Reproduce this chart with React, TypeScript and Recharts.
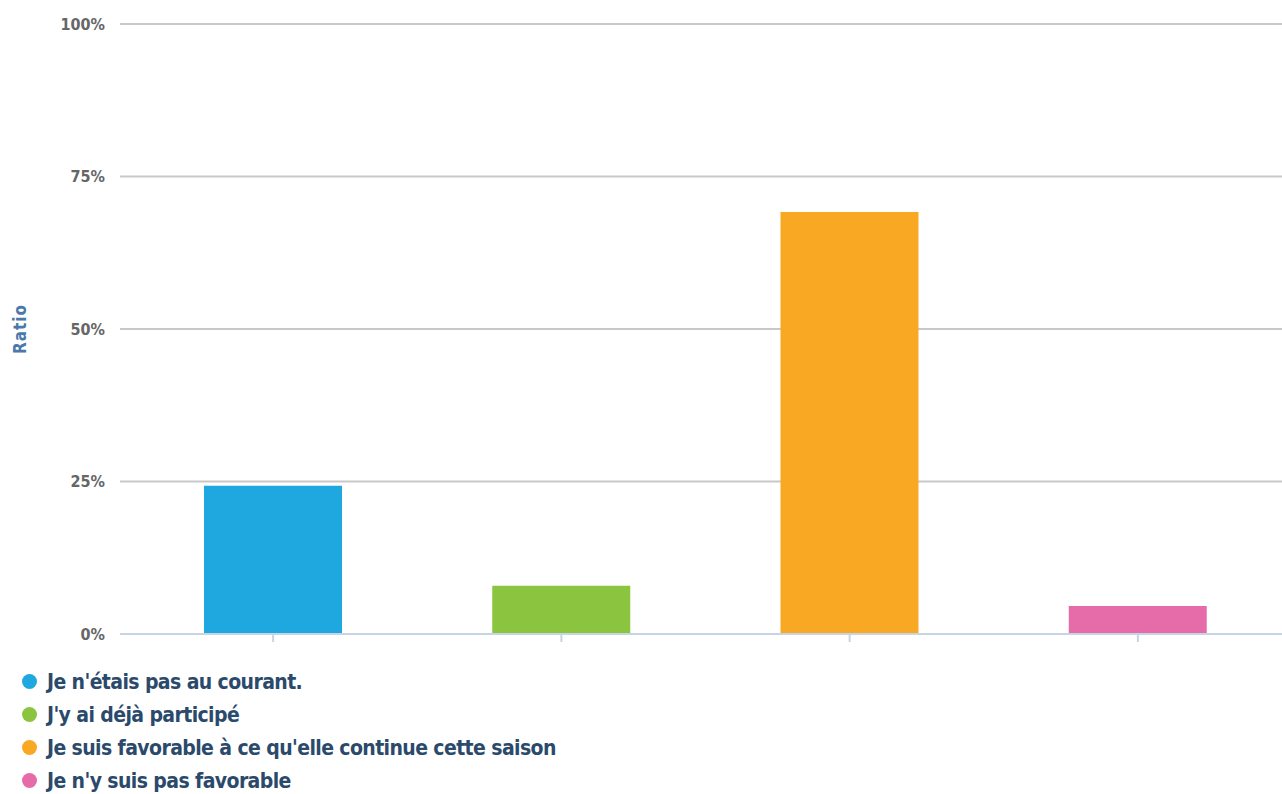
import React from "react";
import { BarChart, Bar, XAxis, YAxis, CartesianGrid, Cell } from "recharts";

const categories = [
  "Je n'étais pas au courant.",
  "J'y ai déjà participé",
  "Je suis favorable à ce qu'elle continue cette saison",
  "Je n'y suis pas favorable",
];
const ratios = [24.3, 7.9, 69.2, 4.6];
const colors = ["#1fa8df", "#8bc53f", "#f9a824", "#e66ca9"];
const yTicks = [0, 25, 50, 75, 100];

const data = categories.map((name, i) => ({ name, ratio: ratios[i] }));

const FONT = "'Liberation Sans Narrow', 'DejaVu Sans Condensed', 'Liberation Sans', sans-serif";

const EmptyTick = () => <g />;

export default function App() {
  return (
    <div style={{ position: "absolute", left: 0, top: 0, width: 1282, height: 794, background: "#fff" }}>
      <BarChart
        width={1282}
        height={794}
        data={data}
        margin={{ top: 24, right: 0, bottom: 150, left: 0 }}
      >
        <CartesianGrid vertical={false} stroke="#c8c8c8" strokeWidth={2} />
        <XAxis
          dataKey="name"
          height={10}
          padding={{ left: 9, right: 0 }}
          tick={EmptyTick}
          axisLine={{ stroke: "#c6d4e4", strokeWidth: 2 }}
          tickLine={{ stroke: "#c6d4e4", strokeWidth: 2 }}
          tickSize={8}
        />
        <YAxis
          width={120}
          domain={[0, 100]}
          ticks={yTicks}
          axisLine={false}
          tickLine={false}
          tickSize={0}
          tickMargin={15}
          tickFormatter={(v: number) => `${v}%`}
          tick={{ fill: "#666", fontSize: 16, fontWeight: 700, fontFamily: FONT }}
          label={{
            value: "Ratio",
            angle: -90,
            position: "insideLeft",
            offset: 20,
            style: { fill: "#4a78aa", fontSize: 17, fontWeight: 700, fontFamily: FONT, textAnchor: "middle", letterSpacing: 1 },
          }}
        />
        <Bar dataKey="ratio" barSize={138} isAnimationActive={false}>
          {data.map((d, i) => (
            <Cell key={d.name} fill={colors[i]} />
          ))}
        </Bar>
      </BarChart>
      <div style={{ position: "absolute", left: 22, top: 665, fontFamily: FONT, fontWeight: 700, fontSize: 21, color: "#2b4a6b" }}>
        {categories.map((c, i) => (
          <div key={c} style={{ display: "flex", alignItems: "center", height: 33 }}>
            <span
              style={{ display: "inline-block", width: 15, height: 15, borderRadius: "50%", background: colors[i], marginRight: 10 }}
            />
            <span style={{ letterSpacing: -0.6 }}>{c}</span>
          </div>
        ))}
      </div>
    </div>
  );
}
